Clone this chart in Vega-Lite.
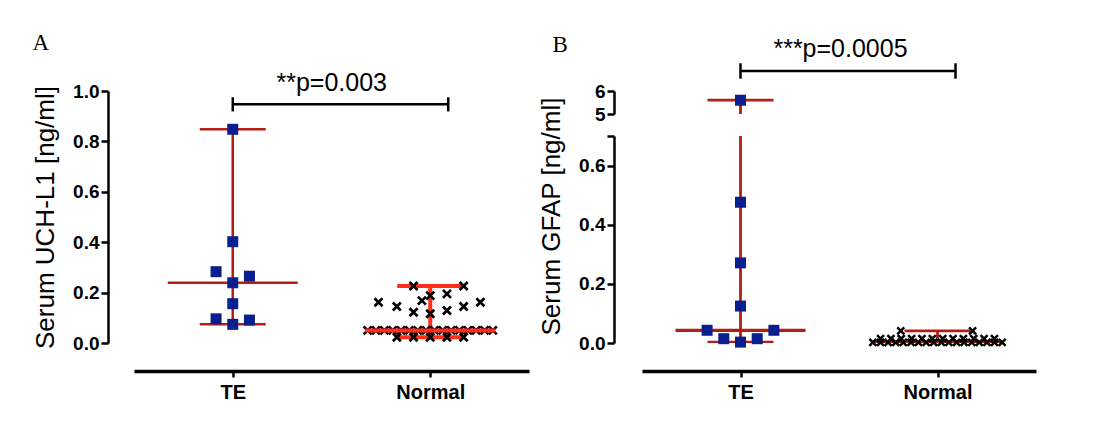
{
  "$schema": "https://vega.github.io/schema/vega-lite/v6.json",
  "background": "white",
  "padding": {"left": 32, "top": 32, "right": 5, "bottom": 5},
  "datasets": {
    "uch": [
      {"group": "TE", "value": 0.848, "slot": 0},
      {"group": "TE", "value": 0.402, "slot": 0},
      {"group": "TE", "value": 0.283, "slot": -1},
      {"group": "TE", "value": 0.265, "slot": 1},
      {"group": "TE", "value": 0.239, "slot": 0},
      {"group": "TE", "value": 0.156, "slot": 0},
      {"group": "TE", "value": 0.096, "slot": -1},
      {"group": "TE", "value": 0.091, "slot": 1},
      {"group": "TE", "value": 0.074, "slot": 0},
      {"group": "Normal", "value": 0.226, "slot": -1},
      {"group": "Normal", "value": 0.226, "slot": 2},
      {"group": "Normal", "value": 0.195, "slot": 1},
      {"group": "Normal", "value": 0.188, "slot": 0},
      {"group": "Normal", "value": 0.168, "slot": -0.5},
      {"group": "Normal", "value": 0.162, "slot": -3.1},
      {"group": "Normal", "value": 0.162, "slot": 3},
      {"group": "Normal", "value": 0.145, "slot": -2},
      {"group": "Normal", "value": 0.145, "slot": 2},
      {"group": "Normal", "value": 0.129, "slot": 1},
      {"group": "Normal", "value": 0.122, "slot": -1},
      {"group": "Normal", "value": 0.116, "slot": 0},
      {"group": "Normal", "value": 0.05, "slot": -3.75},
      {"group": "Normal", "value": 0.05, "slot": -3.25},
      {"group": "Normal", "value": 0.05, "slot": -2.75},
      {"group": "Normal", "value": 0.05, "slot": -2.25},
      {"group": "Normal", "value": 0.05, "slot": -1.75},
      {"group": "Normal", "value": 0.05, "slot": -1.25},
      {"group": "Normal", "value": 0.05, "slot": -0.75},
      {"group": "Normal", "value": 0.05, "slot": -0.25},
      {"group": "Normal", "value": 0.05, "slot": 0.25},
      {"group": "Normal", "value": 0.05, "slot": 0.75},
      {"group": "Normal", "value": 0.05, "slot": 1.25},
      {"group": "Normal", "value": 0.05, "slot": 1.75},
      {"group": "Normal", "value": 0.05, "slot": 2.25},
      {"group": "Normal", "value": 0.05, "slot": 2.75},
      {"group": "Normal", "value": 0.05, "slot": 3.25},
      {"group": "Normal", "value": 0.05, "slot": 3.75},
      {"group": "Normal", "value": 0.023, "slot": -2},
      {"group": "Normal", "value": 0.023, "slot": -1},
      {"group": "Normal", "value": 0.023, "slot": 0},
      {"group": "Normal", "value": 0.023, "slot": 1},
      {"group": "Normal", "value": 0.023, "slot": 2}
    ],
    "gfap": [
      {"group": "TE", "value": 5.6, "slot": 0},
      {"group": "TE", "value": 0.476, "slot": 0},
      {"group": "TE", "value": 0.271, "slot": 0},
      {"group": "TE", "value": 0.125, "slot": 0},
      {"group": "TE", "value": 0.043, "slot": -2},
      {"group": "TE", "value": 0.043, "slot": 2},
      {"group": "TE", "value": 0.0145, "slot": -1},
      {"group": "TE", "value": 0.0145, "slot": 1},
      {"group": "TE", "value": 0.003, "slot": 0},
      {"group": "Normal", "value": 0.041, "slot": -2.2},
      {"group": "Normal", "value": 0.041, "slot": 2.1},
      {"group": "Normal", "value": 0.015, "slot": -3.41},
      {"group": "Normal", "value": 0.015, "slot": -2.79},
      {"group": "Normal", "value": 0.015, "slot": -2.17},
      {"group": "Normal", "value": 0.015, "slot": -1.55},
      {"group": "Normal", "value": 0.015, "slot": -0.93},
      {"group": "Normal", "value": 0.015, "slot": -0.31},
      {"group": "Normal", "value": 0.015, "slot": 0.31},
      {"group": "Normal", "value": 0.015, "slot": 0.93},
      {"group": "Normal", "value": 0.015, "slot": 1.55},
      {"group": "Normal", "value": 0.015, "slot": 2.17},
      {"group": "Normal", "value": 0.015, "slot": 2.79},
      {"group": "Normal", "value": 0.015, "slot": 3.41},
      {"group": "Normal", "value": 0.002, "slot": -3.87},
      {"group": "Normal", "value": 0.002, "slot": -3.41},
      {"group": "Normal", "value": 0.002, "slot": -2.96},
      {"group": "Normal", "value": 0.002, "slot": -2.5},
      {"group": "Normal", "value": 0.002, "slot": -2.05},
      {"group": "Normal", "value": 0.002, "slot": -1.59},
      {"group": "Normal", "value": 0.002, "slot": -1.14},
      {"group": "Normal", "value": 0.002, "slot": -0.68},
      {"group": "Normal", "value": 0.002, "slot": -0.23},
      {"group": "Normal", "value": 0.002, "slot": 0.23},
      {"group": "Normal", "value": 0.002, "slot": 0.68},
      {"group": "Normal", "value": 0.002, "slot": 1.14},
      {"group": "Normal", "value": 0.002, "slot": 1.59},
      {"group": "Normal", "value": 0.002, "slot": 2.05},
      {"group": "Normal", "value": 0.002, "slot": 2.5},
      {"group": "Normal", "value": 0.002, "slot": 2.96},
      {"group": "Normal", "value": 0.002, "slot": 3.41},
      {"group": "Normal", "value": 0.002, "slot": 3.87}
    ]
  },
  "config": {
    "view": {"stroke": null},
    "font": "Liberation Sans",
    "axis": {
      "grid": false,
      "domainColor": "#000000",
      "tickColor": "#000000",
      "labelColor": "#000000",
      "titleColor": "#000000",
      "labelFont": "Liberation Sans",
      "labelFontWeight": "bold",
      "titleFont": "Liberation Sans",
      "titleFontWeight": "normal"
    },
    "axisY": {"domainWidth": 2.5, "tickWidth": 2.5, "tickSize": 7, "labelFontSize": 19, "labelPadding": 2, "titleFontSize": 26, "titlePadding": 14},
    "axisX": {"domainWidth": 3.5, "tickWidth": 2.5, "tickSize": 6, "labelFontSize": 20, "labelPadding": 5, "labelAngle": 0, "offset": 28},
    "title": {"font": "Liberation Serif", "fontSize": 23, "fontWeight": "normal", "anchor": "start", "frame": "bounds", "color": "#000000"}
  },
  "spacing": 113,
  "bounds": "flush",
  "hconcat": [
    {
      "title": {"text": "A", "offset": 16},
      "width": 395,
      "height": 252,
      "data": {"name": "uch"},
      "encoding": {
        "x": {"field": "group", "type": "nominal", "title": null, "scale": {"type": "point", "domain": ["TE", "Normal"], "padding": 0.5}}
      },
      "layer": [
        {
          "transform": [{"aggregate": [{"op": "median", "field": "value", "as": "med"}, {"op": "min", "field": "value", "as": "lo"}, {"op": "max", "field": "value", "as": "hi"}], "groupby": ["group"]}],
          "encoding": {
            "color": {"field": "group", "type": "nominal", "scale": {"domain": ["TE", "Normal"], "range": ["#b41e14", "#ff2d1a"]}, "legend": null},
            "strokeWidth": {"field": "group", "type": "ordinal", "scale": {"domain": ["TE", "Normal"], "range": [2.5, 4]}, "legend": null}
          },
          "layer": [
            {"mark": {"type": "rule"}, "encoding": {"y": {"field": "lo", "type": "quantitative", "title": "Serum UCH-L1 [ng/ml]", "scale": {"domain": [0, 1]}, "axis": {"values": [0, 0.2, 0.4, 0.6, 0.8, 1.0], "format": ".1f", "offset": 26}}, "y2": {"field": "hi"}}},
            {"mark": {"type": "rule", "xOffset": -33, "x2Offset": 33}, "encoding": {"x2": {"field": "group"}, "y": {"field": "hi", "type": "quantitative", "title": "Serum UCH-L1 [ng/ml]"}}},
            {"mark": {"type": "rule", "xOffset": -33, "x2Offset": 33}, "encoding": {"x2": {"field": "group"}, "y": {"field": "lo", "type": "quantitative", "title": "Serum UCH-L1 [ng/ml]"}}},
            {"transform": [{"filter": "datum.group === 'TE'"}], "mark": {"type": "rule", "xOffset": -65, "x2Offset": 65}, "encoding": {"x2": {"field": "group"}, "y": {"field": "med", "type": "quantitative", "title": "Serum UCH-L1 [ng/ml]"}}}
          ]
        },
        {
          "transform": [{"filter": "datum.group === 'TE'"}],
          "mark": {"type": "point", "shape": "square", "filled": true, "size": 121, "color": "#0a1f8f", "opacity": 1},
          "encoding": {
            "y": {"field": "value", "type": "quantitative", "title": "Serum UCH-L1 [ng/ml]"},
            "xOffset": {"field": "slot", "type": "quantitative", "scale": {"domain": [-1, 1], "range": [-16.7, 16.7]}}
          }
        },
        {
          "transform": [{"filter": "datum.group === 'Normal'"}],
          "mark": {"type": "point", "shape": "M-1,-1L1,1M-1,1L1,-1", "filled": false, "size": 64, "color": "#000000", "strokeWidth": 2.7, "opacity": 1},
          "encoding": {
            "y": {"field": "value", "type": "quantitative", "title": "Serum UCH-L1 [ng/ml]"},
            "xOffset": {"field": "slot", "type": "quantitative", "scale": {"domain": [-1, 1], "range": [-16.7, 16.7]}}
          }
        },
        {
          "transform": [{"filter": "datum.group === 'Normal'"}, {"aggregate": [{"op": "median", "field": "value", "as": "med"}], "groupby": ["group"]}],
          "mark": {"type": "rule", "xOffset": -65, "x2Offset": 65, "color": "#ff2d1a", "strokeWidth": 4},
          "encoding": {"x2": {"field": "group"}, "y": {"field": "med", "type": "quantitative", "title": "Serum UCH-L1 [ng/ml]"}}
        },
        {
          "data": {"values": [{}]},
          "mark": {"type": "rule", "color": "#000000", "strokeWidth": 2.5, "x2Offset": 18},
          "encoding": {"x": {"datum": "TE"}, "x2": {"datum": "Normal"}, "y": {"datum": 0.947}}
        },
        {
          "data": {"values": [{}]},
          "mark": {"type": "rule", "color": "#000000", "strokeWidth": 2.5},
          "encoding": {"x": {"datum": "TE"}, "y": {"datum": 0.919}, "y2": {"datum": 0.975}}
        },
        {
          "data": {"values": [{}]},
          "mark": {"type": "rule", "color": "#000000", "strokeWidth": 2.5, "xOffset": 18},
          "encoding": {"x": {"datum": "Normal"}, "y": {"datum": 0.919}, "y2": {"datum": 0.975}}
        },
        {
          "data": {"values": [{}]},
          "mark": {"type": "text", "text": "**p=0.003", "fontSize": 25, "baseline": "alphabetic", "align": "center", "xOffset": 99, "color": "#000000"},
          "encoding": {"x": {"datum": "TE"}, "y": {"datum": 1.0}}
        }
      ]
    },
    {
      "title": {"text": "B", "offset": -20, "dx": 14},
      "spacing": 22,
      "bounds": "flush",
      "data": {"name": "gfap"},
      "vconcat": [
        {
          "width": 394,
          "height": 23,
          "encoding": {
            "x": {"field": "group", "type": "nominal", "axis": null, "scale": {"type": "point", "domain": ["TE", "Normal"], "padding": 0.5}}
          },
          "layer": [
            {
              "transform": [{"aggregate": [{"op": "median", "field": "value", "as": "med"}, {"op": "min", "field": "value", "as": "lo"}, {"op": "max", "field": "value", "as": "hi"}], "groupby": ["group"]}],
              "layer": [
                {"mark": {"type": "rule", "color": "#b41e14", "strokeWidth": 2.8, "clip": true}, "encoding": {"y": {"field": "lo", "type": "quantitative", "title": null, "scale": {"domain": [5, 6]}, "axis": {"values": [5, 6], "format": "d", "offset": 28}}, "y2": {"field": "hi"}}},
                {"mark": {"type": "rule", "color": "#b41e14", "strokeWidth": 2.8, "clip": true, "xOffset": -33, "x2Offset": 33}, "encoding": {"x2": {"field": "group"}, "y": {"field": "hi", "type": "quantitative", "title": null}}}
              ]
            },
            {
              "transform": [{"filter": "datum.value >= 5"}],
              "mark": {"type": "point", "shape": "square", "filled": true, "size": 121, "color": "#0a1f8f", "opacity": 1},
              "encoding": {
                "y": {"field": "value", "type": "quantitative", "title": null},
                "xOffset": {"field": "slot", "type": "quantitative", "scale": {"domain": [-1, 1], "range": [-16.7, 16.7]}}
              }
            },
            {
              "data": {"values": [{}]},
              "mark": {"type": "rule", "color": "#000000", "strokeWidth": 2.5, "x2Offset": 18},
              "encoding": {"x": {"datum": "TE"}, "x2": {"datum": "Normal"}, "y": {"datum": 6.87}}
            },
            {
              "data": {"values": [{}]},
              "mark": {"type": "rule", "color": "#000000", "strokeWidth": 2.5},
              "encoding": {"x": {"datum": "TE"}, "y": {"datum": 6.535}, "y2": {"datum": 7.205}}
            },
            {
              "data": {"values": [{}]},
              "mark": {"type": "rule", "color": "#000000", "strokeWidth": 2.5, "xOffset": 18},
              "encoding": {"x": {"datum": "Normal"}, "y": {"datum": 6.535}, "y2": {"datum": 7.205}}
            },
            {
              "data": {"values": [{}]},
              "mark": {"type": "text", "text": "***p=0.0005", "fontSize": 25, "baseline": "alphabetic", "align": "center", "xOffset": 100, "color": "#000000"},
              "encoding": {"x": {"datum": "TE"}, "y": {"datum": 7.47}}
            }
          ]
        },
        {
          "width": 394,
          "height": 207,
          "encoding": {
            "x": {"field": "group", "type": "nominal", "title": null, "scale": {"type": "point", "domain": ["TE", "Normal"], "padding": 0.5}}
          },
          "layer": [
            {
              "transform": [{"aggregate": [{"op": "median", "field": "value", "as": "med"}, {"op": "min", "field": "value", "as": "lo"}, {"op": "max", "field": "value", "as": "hi"}], "groupby": ["group"]}],
              "layer": [
                {"mark": {"type": "rule", "color": "#b41e14", "strokeWidth": 2.8, "clip": true}, "encoding": {"y": {"field": "lo", "type": "quantitative", "title": "Serum GFAP [ng/ml]", "scale": {"domain": [0, 0.7]}, "axis": {"values": [0, 0.2, 0.4, 0.6, 0.7], "labelExpr": "datum.value > 0.65 ? '' : format(datum.value, '.1f')", "offset": 28, "titleY": 80}}, "y2": {"field": "hi"}}},
                {"mark": {"type": "rule", "color": "#b41e14", "strokeWidth": 2.8, "clip": true, "xOffset": -33, "x2Offset": 33}, "encoding": {"x2": {"field": "group"}, "y": {"field": "hi", "type": "quantitative", "title": "Serum GFAP [ng/ml]"}}},
                {"mark": {"type": "rule", "color": "#b41e14", "strokeWidth": 2.8, "clip": true, "xOffset": -33, "x2Offset": 33}, "encoding": {"x2": {"field": "group"}, "y": {"field": "lo", "type": "quantitative", "title": "Serum GFAP [ng/ml]"}}},
                {"mark": {"type": "rule", "color": "#b41e14", "strokeWidth": 3.2, "clip": true, "xOffset": -65, "x2Offset": 65}, "encoding": {"x2": {"field": "group"}, "y": {"field": "med", "type": "quantitative", "title": "Serum GFAP [ng/ml]"}}}
              ]
            },
            {
              "transform": [{"filter": "datum.group === 'TE' && datum.value <= 0.7"}],
              "mark": {"type": "point", "shape": "square", "filled": true, "size": 121, "color": "#0a1f8f", "opacity": 1},
              "encoding": {
                "y": {"field": "value", "type": "quantitative", "title": "Serum GFAP [ng/ml]"},
                "xOffset": {"field": "slot", "type": "quantitative", "scale": {"domain": [-1, 1], "range": [-16.7, 16.7]}}
              }
            },
            {
              "transform": [{"filter": "datum.group === 'Normal'"}],
              "mark": {"type": "point", "shape": "M-1,-1L1,1M-1,1L1,-1", "filled": false, "size": 49, "color": "#000000", "strokeWidth": 2.5, "opacity": 1},
              "encoding": {
                "y": {"field": "value", "type": "quantitative", "title": "Serum GFAP [ng/ml]"},
                "xOffset": {"field": "slot", "type": "quantitative", "scale": {"domain": [-1, 1], "range": [-16.7, 16.7]}}
              }
            }
          ]
        }
      ]
    }
  ]
}
